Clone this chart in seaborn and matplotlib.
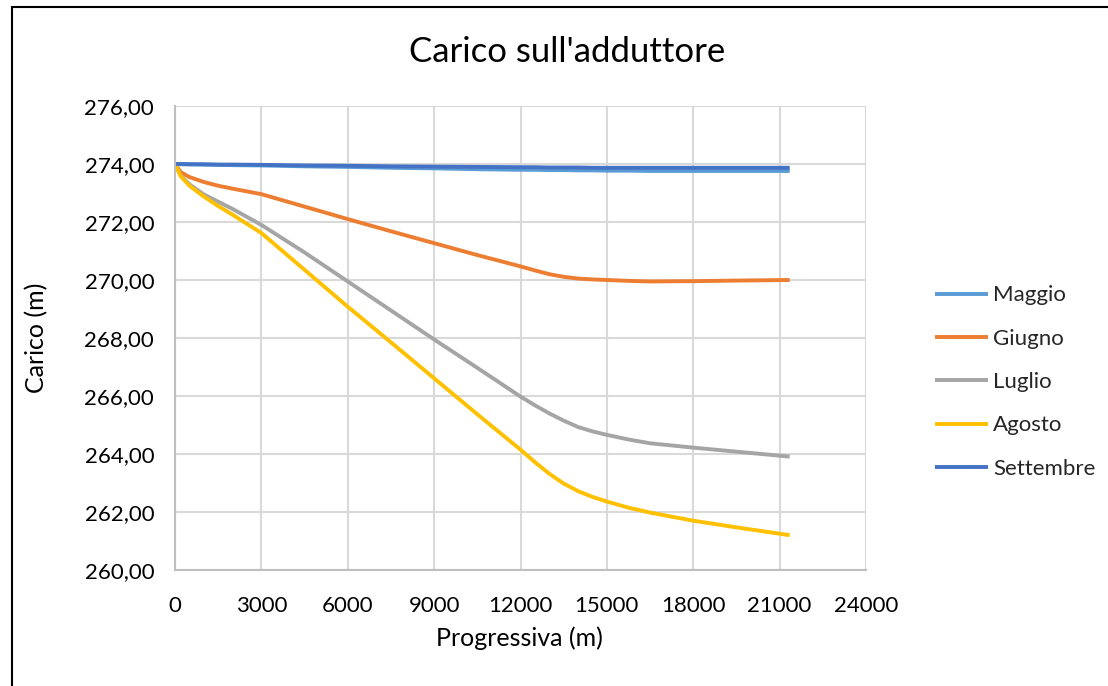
import numpy as np
import pandas as pd
import matplotlib
matplotlib.use("Agg")
import matplotlib.pyplot as plt
import matplotlib.patches as mpatches
import seaborn as sns

# ---- data ----
progressiva = [0, 200, 500, 1000, 1500, 2000, 3000, 4500, 6000, 7500, 9000,
               10500, 12000, 12500, 13000, 13500, 14000, 14500, 15000, 15750,
               16500, 18000, 19500, 21350]

maggio = [274.00, 273.99, 273.99, 273.98, 273.97, 273.96, 273.95, 273.92, 273.90, 273.87, 273.85,
          273.82, 273.80, 273.80, 273.79, 273.79, 273.78, 273.78, 273.77, 273.77,
          273.76, 273.76, 273.76, 273.76]
giugno = [274.00, 273.72, 273.55, 273.38, 273.25, 273.15, 272.96, 272.53, 272.10, 271.68, 271.27,
          270.86, 270.47, 270.33, 270.20, 270.11, 270.05, 270.02, 270.00, 269.97,
          269.95, 269.96, 269.98, 270.00]
luglio = [274.00, 273.60, 273.30, 272.95, 272.70, 272.45, 271.90, 270.95, 269.95, 268.95, 267.95,
          266.97, 265.98, 265.68, 265.40, 265.15, 264.93, 264.78, 264.66, 264.50,
          264.37, 264.22, 264.08, 263.91]
agosto = [274.00, 273.58, 273.25, 272.88, 272.55, 272.25, 271.62, 270.35, 269.08, 267.85, 266.61,
          265.37, 264.15, 263.72, 263.32, 262.98, 262.72, 262.52, 262.36, 262.15,
          261.98, 261.70, 261.47, 261.20]
settembre = [274.00, 274.00, 273.99, 273.99, 273.98, 273.98, 273.97, 273.95, 273.94, 273.92, 273.91,
             273.90, 273.89, 273.89, 273.88, 273.88, 273.88, 273.87, 273.87, 273.87,
             273.87, 273.87, 273.87, 273.87]

mesi = ["Maggio", "Giugno", "Luglio", "Agosto", "Settembre"]
colori = ["#5B9BD5", "#ED7D31", "#A5A5A5", "#FFC000", "#4472C4"]
x_ticks = [0, 3000, 6000, 9000, 12000, 15000, 18000, 21000, 24000]
y_ticks = [260, 262, 264, 266, 268, 270, 272, 274, 276]

series = dict(zip(mesi, [maggio, giugno, luglio, agosto, settembre]))
df = pd.concat([pd.DataFrame({"Progressiva": progressiva, "Carico": v, "Mese": k})
                for k, v in series.items()], ignore_index=True)

sns.set_theme(style="white")
plt.rcParams["font.family"] = ["Lato", "DejaVu Sans"]
TXT = "#000000"

fig = plt.figure(figsize=(11.08, 6.86), dpi=100)
ax = fig.add_axes([175 / 1108, 1 - 570 / 686, (866 - 175) / 1108, (570 - 106) / 686])

sns.lineplot(data=df, x="Progressiva", y="Carico", hue="Mese", hue_order=mesi,
             palette=colori, sort=False, linewidth=2.8, ax=ax, legend=True,
             solid_joinstyle="round", solid_capstyle="butt")

ax.set_xlim(0, 24000)
ax.set_ylim(260, 276)
ax.set_xticks(x_ticks)
ax.set_xticklabels([str(t) for t in x_ticks])
ax.set_yticks(y_ticks)
ax.set_yticklabels([f"{t:.2f}".replace(".", ",") for t in y_ticks])
ax.tick_params(axis="y", length=0, labelsize=16, colors=TXT, pad=15)
ax.tick_params(axis="x", length=0, labelsize=16, colors=TXT, pad=19)
ax.grid(True, color="#D9D9D9", linewidth=1.5)
ax.set_axisbelow(True)
for s in ["top", "right"]:
    ax.spines[s].set_visible(False)
for s in ["left", "bottom"]:
    ax.spines[s].set_color("#BFBFBF")
    ax.spines[s].set_linewidth(1.5)

ax.set_xlabel("Progressiva (m)", fontsize=18, color=TXT)
ax.set_ylabel("Carico (m)", fontsize=18, color=TXT)
ax.xaxis.set_label_coords(519 / 1108, 1 - 638 / 686, transform=fig.transFigure)
ax.yaxis.set_label_coords(37 / 1108, 1 - 338 / 686, transform=fig.transFigure)
ax.xaxis.label.set_va("center")
ax.yaxis.label.set_va("center")
fig.text(567 / 1108, 1 - 52 / 686, "Carico sull'adduttore", fontsize=25, color=TXT,
         ha="center", va="center")

leg = ax.legend(loc="center left", bbox_to_anchor=(935 / 1108, 1 - 382 / 686),
                bbox_transform=fig.transFigure, frameon=False,
                fontsize=16, handlelength=2.4, handletextpad=0.22, labelspacing=1.05,
                borderaxespad=0, borderpad=0)
for line in leg.get_lines():
    line.set_linewidth(2.8)

# outer chart border (extends past right/bottom edges)
fig.patches.append(mpatches.Rectangle((12 / 1108, -0.1), 1.2, 1 - 7 / 686 + 0.1,
                                      transform=fig.transFigure, fill=False,
                                      edgecolor="black", linewidth=1.5))

fig.savefig("out.png", dpi=100)
